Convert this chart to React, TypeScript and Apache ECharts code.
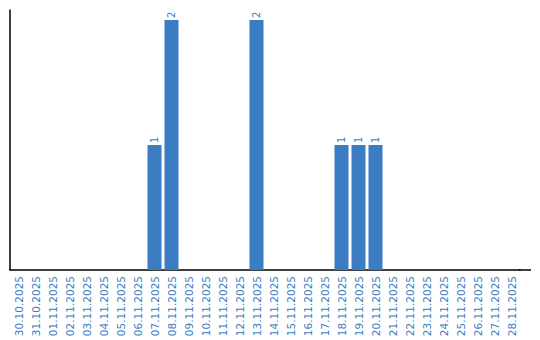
import React, { useEffect, useRef } from "react";
import * as echarts from "echarts";

const categories = [
  "30.10.2025", "31.10.2025", "01.11.2025", "02.11.2025", "03.11.2025",
  "04.11.2025", "05.11.2025", "06.11.2025", "07.11.2025", "08.11.2025",
  "09.11.2025", "10.11.2025", "11.11.2025", "12.11.2025", "13.11.2025",
  "14.11.2025", "15.11.2025", "16.11.2025", "17.11.2025", "18.11.2025",
  "19.11.2025", "20.11.2025", "21.11.2025", "22.11.2025", "23.11.2025",
  "24.11.2025", "25.11.2025", "26.11.2025", "27.11.2025", "28.11.2025",
];
const counts = [
  0, 0, 0, 0, 0, 0, 0, 0, 1, 2,
  0, 0, 0, 0, 2, 0, 0, 0, 0, 1,
  1, 1, 0, 0, 0, 0, 0, 0, 0, 0,
];

const BLUE = "#3a7dc2";
const FONT = "'DejaVu Sans', Verdana, sans-serif";

export default function App() {
  const ref = useRef<HTMLDivElement>(null);
  useEffect(() => {
    if (!ref.current) return;
    const chart = echarts.init(ref.current, null, { renderer: "svg" });
    chart.setOption({
      animation: false,
      grid: { left: 10, right: 20, top: 10, bottom: 70, containLabel: false },
      xAxis: {
        type: "category",
        data: categories,
        axisLine: { show: true, lineStyle: { color: "#000", width: 1.5 } },
        axisTick: { show: false },
        axisLabel: {
          rotate: 90,
          interval: 0,
          color: BLUE,
          fontSize: 10.5,
          fontFamily: FONT,
          margin: 6,
        },
      },
      yAxis: {
        type: "value",
        min: 0,
        max: 2.08,
        axisLine: { show: true, lineStyle: { color: "#000", width: 1.5 } },
        axisTick: { show: false },
        axisLabel: { show: false },
        splitLine: { show: false },
      },
      graphic: [
        {
          type: "line",
          shape: { x1: 519, y1: 270, x2: 531, y2: 270 },
          style: { stroke: "#000", lineWidth: 1.5 },
        },
      ],
      series: [
        {
          type: "bar",
          data: counts.map((v) => (v === 0 ? null : v)),
          barWidth: 14,
          itemStyle: { color: BLUE },
          label: {
            show: true,
            position: "top",
            rotate: 90,
            align: "left",
            verticalAlign: "middle",
            distance: 2,
            color: BLUE,
            fontSize: 10,
            fontFamily: FONT,
          },
        },
      ],
    });
    return () => chart.dispose();
  }, []);
  return <div ref={ref} style={{ width: 540, height: 340, position: "absolute", left: 0, top: 0 }} />;
}
